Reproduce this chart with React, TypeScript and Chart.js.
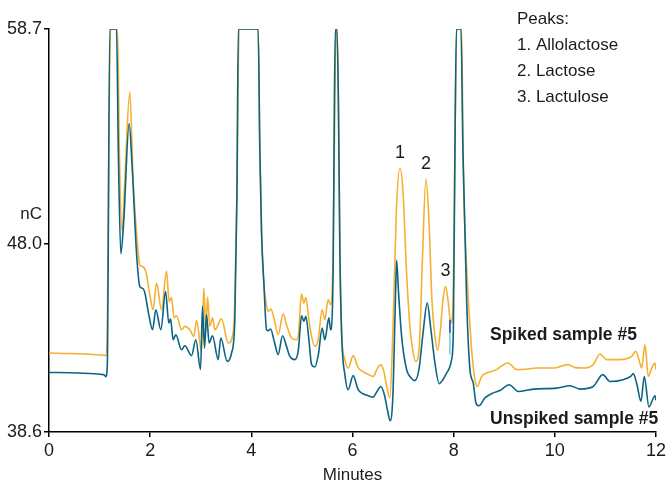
import React, { useEffect, useRef } from "react";
import { Chart, registerables } from "chart.js";

Chart.register(...registerables);

const FONT = '"Liberation Sans", Arial, sans-serif';

const spikedTime = [0, 1.084, 1.137, 1.216, 1.355, 1.39, 1.446, 1.499, 1.598, 1.663, 1.73, 1.796, 1.861, 1.924, 1.993, 2.059, 2.126, 2.225, 2.323, 2.375, 2.422, 2.474, 2.521, 2.62, 2.685, 2.784, 2.863, 2.917, 3.016, 3.061, 3.101, 3.134, 3.18, 3.233, 3.279, 3.411, 3.542, 3.641, 3.674, 3.714, 3.759, 4.135, 4.168, 4.202, 4.248, 4.297, 4.333, 4.386, 4.455, 4.53, 4.629, 4.696, 4.795, 4.894, 4.93, 4.993, 5.039, 5.078, 5.138, 5.191, 5.256, 5.321, 5.4, 5.453, 5.519, 5.567, 5.618, 5.652, 5.671, 5.697, 5.721, 5.75, 5.784, 5.849, 5.914, 6.013, 6.112, 6.205, 6.324, 6.409, 6.482, 6.555, 6.621, 6.68, 6.739, 6.799, 6.868, 6.937, 6.996, 7.066, 7.125, 7.175, 7.254, 7.323, 7.382, 7.452, 7.511, 7.57, 7.63, 7.683, 7.738, 7.788, 7.841, 7.887, 7.946, 7.991, 8.025, 8.058, 8.157, 8.189, 8.256, 8.355, 8.42, 8.466, 8.553, 8.651, 8.849, 8.954, 9.078, 9.245, 9.428, 9.64, 9.968, 10.1, 10.265, 10.397, 10.562, 10.76, 10.892, 11.024, 11.288, 11.519, 11.598, 11.663, 11.716, 11.782, 11.847, 11.92, 11.979, 12.0];
const spikedValue = [42.54, 42.43, 42.41, 58.7, 58.7, 52.68, 48.6, 51.18, 55.57, 51.18, 48.59, 46.94, 46.84, 46.5, 45.45, 44.7, 46.03, 44.7, 46.61, 45.11, 45.3, 44.3, 44.4, 43.7, 43.87, 43.7, 43.37, 44.17, 42.62, 45.78, 43.55, 45.33, 43.87, 44.29, 43.7, 44.24, 43.04, 43.55, 45.2, 50.19, 58.7, 58.7, 52.68, 48.54, 45.95, 44.95, 44.62, 44.73, 44.2, 43.45, 44.49, 43.95, 43.29, 43.2, 43.45, 45.48, 45.03, 45.31, 44.2, 43.37, 42.87, 43.2, 44.7, 44.2, 45.2, 44.95, 47.69, 55.17, 58.7, 58.7, 55.17, 47.69, 43.55, 42.21, 41.79, 42.41, 41.81, 41.61, 41.46, 41.37, 41.71, 41.96, 41.61, 40.81, 40.31, 43.7, 49.69, 51.77, 50.68, 46.69, 44.2, 42.95, 42.12, 42.95, 47.19, 51.22, 49.19, 45.2, 43.37, 42.67, 43.7, 45.2, 45.86, 45.2, 44.04, 45.36, 52.68, 58.7, 58.7, 51.85, 46.86, 42.7, 41.21, 40.87, 41.37, 41.54, 41.71, 41.91, 42.04, 41.71, 41.73, 41.79, 41.79, 41.86, 41.96, 41.81, 41.79, 41.96, 42.49, 42.21, 42.21, 42.37, 42.62, 42.21, 41.79, 42.95, 41.37, 41.81, 42.04, 41.71];

const unspikedTime = [0, 1.084, 1.123, 1.153, 1.202, 1.335, 1.37, 1.42, 1.479, 1.584, 1.647, 1.73, 1.796, 1.861, 1.894, 1.973, 2.047, 2.112, 2.211, 2.304, 2.369, 2.403, 2.454, 2.507, 2.62, 2.685, 2.818, 2.903, 2.996, 3.035, 3.075, 3.114, 3.166, 3.233, 3.344, 3.397, 3.522, 3.609, 3.674, 3.714, 3.743, 4.135, 4.168, 4.202, 4.248, 4.301, 4.337, 4.38, 4.455, 4.53, 4.617, 4.696, 4.762, 4.861, 4.93, 4.993, 5.039, 5.078, 5.138, 5.191, 5.256, 5.325, 5.4, 5.453, 5.533, 5.567, 5.618, 5.642, 5.662, 5.691, 5.721, 5.75, 5.79, 5.849, 5.914, 6.013, 6.112, 6.205, 6.31, 6.409, 6.482, 6.561, 6.63, 6.69, 6.745, 6.799, 6.848, 6.872, 6.907, 6.971, 7.07, 7.155, 7.233, 7.313, 7.391, 7.477, 7.55, 7.63, 7.714, 7.787, 7.86, 7.959, 7.994, 8.025, 8.055, 8.144, 8.183, 8.256, 8.322, 8.387, 8.44, 8.499, 8.618, 8.782, 8.915, 9.098, 9.276, 9.573, 10.036, 10.299, 10.497, 10.76, 10.946, 11.09, 11.353, 11.499, 11.55, 11.624, 11.703, 11.768, 11.861, 11.98, 12.0];
const unspikedValue = [41.57, 41.46, 41.36, 41.96, 58.7, 58.7, 52.68, 47.49, 49.19, 53.98, 51.68, 47.54, 45.85, 45.75, 45.55, 44.45, 43.7, 44.7, 43.7, 45.61, 44.04, 44.24, 43.2, 43.45, 42.7, 42.9, 42.41, 43.2, 41.71, 44.86, 42.79, 44.45, 43.04, 43.4, 42.21, 43.29, 42.12, 42.54, 44.2, 50.19, 58.7, 58.7, 52.68, 48.54, 46.03, 43.7, 43.65, 43.74, 43.1, 42.46, 43.4, 42.87, 42.37, 42.21, 42.7, 44.4, 44.12, 44.37, 43.2, 41.96, 41.84, 42.46, 43.79, 43.2, 44.29, 43.7, 46.86, 55.17, 58.7, 58.7, 55.17, 47.69, 43.2, 41.46, 40.71, 41.41, 40.71, 40.51, 40.41, 40.34, 40.61, 40.87, 40.46, 39.71, 39.16, 40.46, 45.2, 47.16, 45.7, 43.37, 41.71, 41.31, 41.17, 41.71, 43.45, 45.03, 43.7, 42.04, 41.01, 41.21, 41.54, 42.21, 43.7, 52.68, 58.7, 58.7, 52.68, 45.2, 41.71, 41.04, 40.05, 39.91, 40.3, 40.55, 40.67, 40.96, 40.62, 40.74, 40.79, 40.91, 40.74, 40.87, 41.46, 41.12, 41.21, 41.37, 41.51, 40.96, 40.13, 41.37, 39.85, 40.41, 40.18];

// small integration marker seen near 7.93 min
const markerTime = [7.926, 7.926];
const markerUpperValue = [44.2, 43.55];
const markerLowerValue = [43.55, 42.46];

const yTicks = [38.6, 48.0, 58.7];
const xMin = 0;
const xMax = 12;
const xStep = 2;

const peakLabels = ["1", "2", "3"];
const peakTimes = [6.937, 7.452, 7.841];
const peakValues = [51.77, 51.22, 45.86];

const legendLines = ["Peaks:", "1. Allolactose", "2. Lactose", "3. Lactulose"];
const seriesNames = ["Spiked sample #5", "Unspiked sample #5"];
const yUnit = "nC";
const xTitle = "Minutes";

const ORANGE = "#F5B032";
const TEAL = "#0B6482";
const TEXT = "#1c1c1c";

const toPoints = (ts: number[], vs: number[]) => ts.map((t, i) => ({ x: t, y: vs[i] }));

const annotationPlugin = {
  id: "annotations",
  afterDraw(chart: any) {
    const { ctx, scales } = chart;
    const xs = scales.x;
    const ys = scales.y;
    ctx.save();
    ctx.fillStyle = TEXT;
    ctx.textBaseline = "middle";
    ctx.font = `17px ${FONT}`;
    ctx.textAlign = "right";
    ctx.fillText(yUnit, 42, 214);
    ctx.textAlign = "left";
    legendLines.forEach((l, i) => ctx.fillText(l, 517, 19 + i * 26));
    ctx.font = `18px ${FONT}`;
    ctx.textAlign = "center";
    peakLabels.forEach((l, i) => {
      const px = xs.getPixelForValue(peakTimes[i]);
      const py = ys.getPixelForValue(peakValues[i]) - 15;
      ctx.fillText(l, px, py);
    });
    ctx.font = `bold 17.5px ${FONT}`;
    ctx.textAlign = "left";
    ctx.fillText(seriesNames[0], 490, 335);
    ctx.fillText(seriesNames[1], 490, 419);
    ctx.restore();
  },
};

export default function App() {
  const ref = useRef<HTMLCanvasElement | null>(null);
  useEffect(() => {
    if (!ref.current) return;
    const line = (label: string, ts: number[], vs: number[], color: string, w: number) => ({
      label,
      data: toPoints(ts, vs),
      borderColor: color,
      borderWidth: w,
      pointRadius: 0,
      cubicInterpolationMode: "monotone" as const,
      fill: false,
    });
    const chart = new Chart(ref.current, {
      type: "line",
      data: {
        datasets: [
          line("marker-upper", markerTime, markerUpperValue, "#3659B0", 1.8),
          line("marker-lower", markerTime, markerLowerValue, "#86D3E6", 1.8),
          line(seriesNames[1], unspikedTime, unspikedValue, TEAL, 1.6),
          line(seriesNames[0], spikedTime, spikedValue, ORANGE, 1.6),
        ],
      },
      options: {
        animation: false,
        responsive: false,
        maintainAspectRatio: false,
        layout: { padding: { top: 29, right: 14, left: 0, bottom: 0 } },
        plugins: { legend: { display: false }, tooltip: { enabled: false } },
        scales: {
          x: {
            type: "linear",
            min: xMin,
            max: xMax,
            border: { display: true, color: "#000", width: 1.5 },
            grid: { drawOnChartArea: false, drawTicks: true, tickLength: 5, color: "#000", lineWidth: 1.5 },
            ticks: { stepSize: xStep, color: TEXT, font: { family: FONT, size: 18 }, padding: 3, maxRotation: 0 },
            title: { display: true, text: xTitle, color: TEXT, font: { family: FONT, size: 17 }, padding: 0 },
            afterFit: (s: any) => { s.height = 54; },
          },
          y: {
            type: "linear",
            min: yTicks[0],
            max: yTicks[yTicks.length - 1],
            border: { display: true, color: "#000", width: 1.5 },
            grid: { drawOnChartArea: false, drawTicks: true, tickLength: 5, color: "#000", lineWidth: 1.5 },
            afterBuildTicks: (s: any) => { s.ticks = yTicks.map((v) => ({ value: v })); },
            ticks: { color: TEXT, font: { family: FONT, size: 18 }, padding: 2, callback: (v: any) => Number(v).toFixed(1) },
            afterFit: (s: any) => { s.width = 49; },
          },
        },
      },
      plugins: [annotationPlugin],
    });
    return () => chart.destroy();
  }, []);
  return (
    <div style={{ position: "fixed", left: 0, top: 0, width: 670, height: 486, background: "#fff" }}>
      <canvas ref={ref} width={670} height={486} style={{ width: 670, height: 486 }} />
    </div>
  );
}
